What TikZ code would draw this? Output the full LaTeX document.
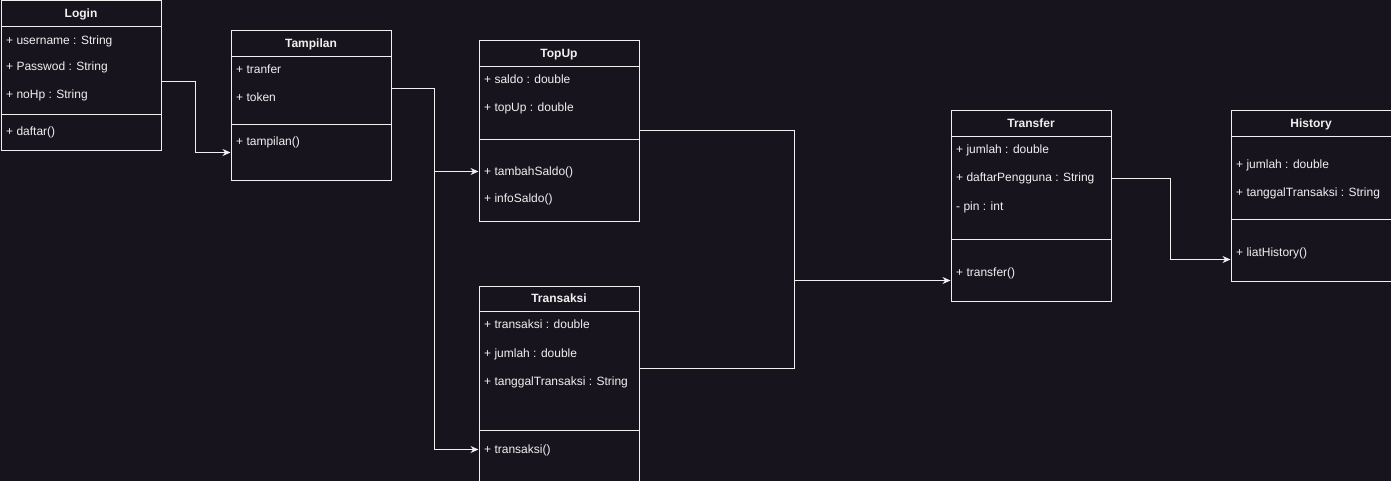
\documentclass[tikz,border=0pt]{standalone}
\usepackage{fontspec}
\setmainfont{Liberation Sans}
\usetikzlibrary{arrows.meta,calc}
\definecolor{bg}{RGB}{24,20,29}
\definecolor{fg}{RGB}{240,240,240}
\newcommand{\umlbox}[8]{%
  \node[cls, minimum width=#4pt, minimum height=#5pt] (#1) at (#2,#3) {};
  \draw[conn] ($(#1.north west)+(0,#6)$) -- ($(#1.north east)+(0,#6)$);
  \draw[conn] ($(#1.north west)+(0,#7)$) -- ($(#1.north east)+(0,#7)$);
  \node[ttl] (#1-t) at ($(#1.north)+(0,{#6/2+4.3})$) {#8};
}
\begin{document}
\begin{tikzpicture}[x=1pt,y=-1pt,
  cls/.style={draw=fg, line width=1pt, anchor=north west, inner sep=0pt},
  ttl/.style={text=fg, font=\bfseries\fontsize{12}{14}\selectfont, anchor=base, inner sep=0pt},
  attr/.style={text=fg, font=\fontsize{12}{14}\selectfont, anchor=base west, inner sep=0pt},
  conn/.style={draw=fg, line width=1pt},
  arr/.style={conn, -{Stealth[length=8pt,width=7pt]}}]
\fill[bg] (0,0) rectangle (1391,481);
\useasboundingbox (0,0) rectangle (1391,481);

% Login
\umlbox{login}{0.5}{0.5}{160}{150}{26}{114}{Login}
\node[attr] (login-1) at (6,44.3) {+ username : String};
\node[attr] (login-2) at (6,70.3) {+ Passwod : String};
\node[attr] (login-3) at (6,98.3) {+ noHp : String};
\node[attr] (login-4) at (6,135.3) {+ daftar()};

% Tampilan
\umlbox{tampilan}{230.5}{30.5}{160}{150}{26}{94}{Tampilan}
\node[attr] (tampilan-1) at (236,73.6) {+ tranfer};
\node[attr] (tampilan-2) at (236,102) {+ token};
\node[attr] (tampilan-3) at (236,146) {+ tampilan()};

% TopUp
\umlbox{topup}{478.5}{40.5}{160}{180}{26}{99}{TopUp}
\node[attr] (topup-1) at (484,83.6) {+ saldo : double};
\node[attr] (topup-2) at (484,111.6) {+ topUp : double};
\node[attr] (topup-3) at (484,176) {+ tambahSaldo()};
\node[attr] (topup-4) at (484,202.3) {+ infoSaldo()};

% Transaksi
\umlbox{transaksi}{478.5}{285.5}{160}{195}{26}{145}{Transaksi}
\node[attr] (transaksi-1) at (484,328.6) {+ transaksi : double};
\node[attr] (transaksi-2) at (484,357) {+ jumlah : double};
\node[attr] (transaksi-3) at (484,385) {+ tanggalTransaksi : String};
\node[attr] (transaksi-4) at (484,453.3) {+ transaksi()};

% Transfer
\umlbox{transfer}{950.5}{110.5}{160}{190}{26}{129}{Transfer}
\node[attr] (transfer-1) at (956,153.6) {+ jumlah : double};
\node[attr] (transfer-2) at (956,182) {+ daftarPengguna : String};
\node[attr] (transfer-3) at (956,210) {- pin : int};
\node[attr] (transfer-4) at (956,276) {+ transfer()};

% History
\umlbox{history}{1230.5}{110.5}{160}{170}{26}{109}{History}
\node[attr] (history-1) at (1236,168.3) {+ jumlah : double};
\node[attr] (history-2) at (1236,196.3) {+ tanggalTransaksi : String};
\node[attr] (history-3) at (1236,256.3) {+ liatHistory()};

% routing coordinates
\coordinate (r1a) at (195.5,81.5);
\coordinate (r1b) at (195.5,152.5);
\coordinate (r2a) at (434.5,88.5);
\coordinate (r2b) at (434.5,171.5);
\coordinate (r2c) at (434.5,449.5);
\coordinate (r3a) at (794.5,130.5);
\coordinate (r3b) at (794.5,280.5);
\coordinate (r3c) at (794.5,368.5);
\coordinate (r4a) at (1170.5,178.5);
\coordinate (r4b) at (1170.5,259.5);

% connectors
\draw[arr] (login.east |- r1a) -- (r1a) -- (r1b) -- (tampilan.west |- r1b);
\draw[arr] (tampilan.east |- r2a) -- (r2a) -- (r2c) -- (transaksi.west |- r2c);
\draw[arr] (r2b) -- (topup.west |- r2b);
\draw[arr] (topup.east |- r3a) -- (r3a) -- (r3b) -- (transfer.west |- r3b);
\draw[conn] (transaksi.east |- r3c) -- (r3c) -- (r3b);
\draw[arr] (transfer.east |- r4a) -- (r4a) -- (r4b) -- (history.west |- r4b);
\end{tikzpicture}
\end{document}
